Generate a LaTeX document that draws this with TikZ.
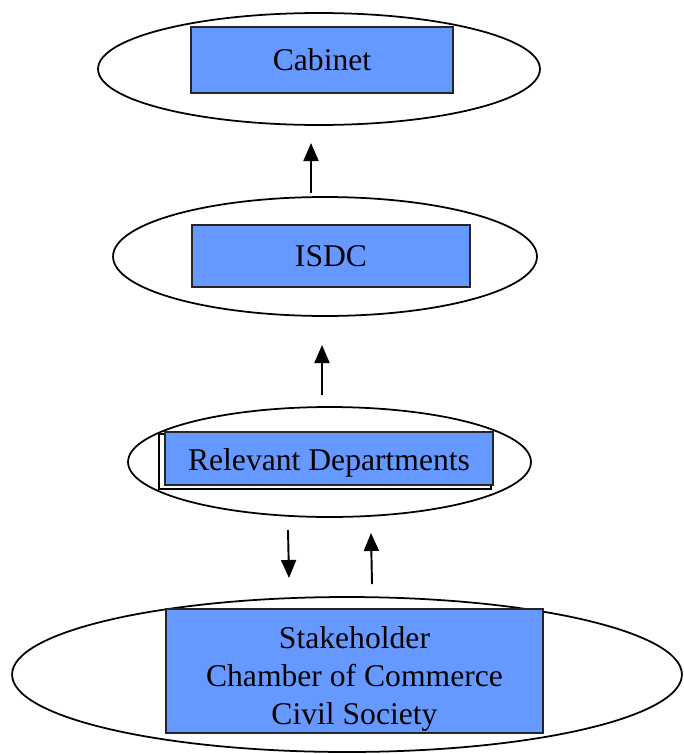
\documentclass[tikz,border=0pt]{standalone}
\usepackage{fontspec}
\setmainfont{Liberation Serif}
\usetikzlibrary{positioning,shapes.geometric,arrows.meta}
\definecolor{boxblue}{RGB}{102,153,255}

\begin{document}
\begin{tikzpicture}[x=0.02cm,y=0.02cm,
        oval/.style={ellipse, draw, line width=1pt, inner sep=0pt},
        box/.style={rectangle, draw=black!85, line width=0.9pt, fill=boxblue, inner sep=0pt, align=center, font=\fontsize{18}{21.5}\selectfont},
        uparrow/.style={line width=1.1pt, -{Triangle[length=0.36cm,width=0.3cm]}}]
                \useasboundingbox (0,0) rectangle (683,-754);

                \node[oval, minimum width=8.84cm, minimum height=2.24cm] (cabell) at (319,-69) {};
                \node[box, minimum width=5.24cm, minimum height=1.32cm] (cabinet) at (322,-60) {Cabinet};

                \node[oval, minimum width=8.48cm, minimum height=2.38cm] (isdcell) at (325,-256.5) {};
                \node[box, minimum width=5.56cm, minimum height=1.24cm] (isdc) at (331,-256) {ISDC};

                \node[oval, minimum width=8.06cm, minimum height=2.2cm] (relell) at (329.5,-462) {};
                \node[rectangle, draw, line width=0.9pt, fill=white, minimum width=6.64cm, minimum height=1.1cm] (relback) at (325,-461.5) {};
                \node[box, minimum width=6.56cm, minimum height=1.06cm, text height=18pt, text depth=3.9pt] (relevant) at (329,-458.5) {Relevant Departments};

                \node[oval, minimum width=13.4cm, minimum height=3.1cm] (stakell) at (347,-674.5) {};
                \node[box, minimum width=7.54cm, minimum height=2.48cm] (stake) at (354.5,-671) {};
                \node[align=center, inner sep=0pt, font=\fontsize{18}{21.5}\selectfont] (staketext) at (354.5,-679) {Stakeholder\\Chamber of Commerce\\Civil Society};

                % arrow ends
                \coordinate (a1s) at (311,-193);
                \coordinate (a1e) at (311,-143);
                \coordinate (a2s) at (322,-395);
                \coordinate (a2e) at (322,-345);
                \coordinate (a3s) at (288,-530);
                \coordinate (a3e) at (289,-578);
                \coordinate (a4s) at (372,-584);
                \coordinate (a4e) at (371,-533);

                \draw[uparrow] (a1s) -- (a1e);
                \draw[uparrow] (a2s) -- (a2e);
                \draw[uparrow] (a3s) -- (a3e);
                \draw[uparrow] (a4s) -- (a4e);
            \end{tikzpicture}
\end{document}
